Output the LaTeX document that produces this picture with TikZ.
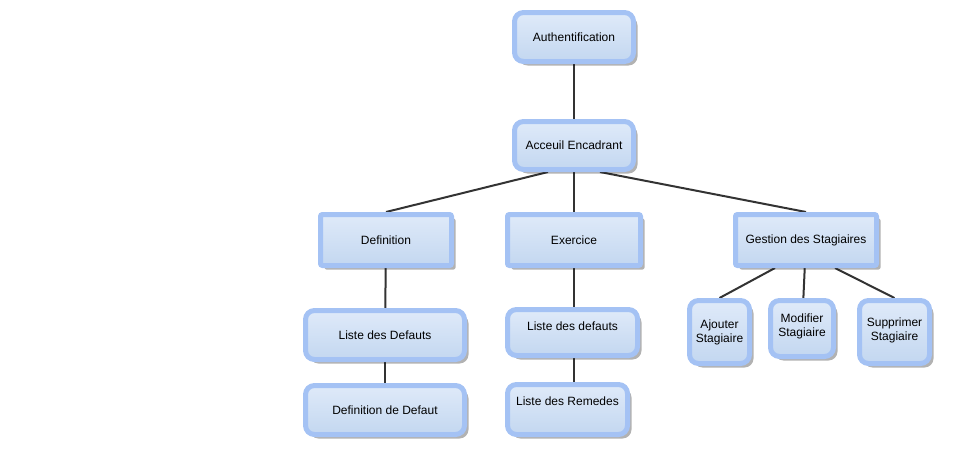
\documentclass[tikz,border=0pt]{standalone}
\usepackage{fontspec}
\setmainfont{Liberation Sans}
\usetikzlibrary{shapes,arrows,positioning,calc,shadows,backgrounds}

\definecolor{boxline}{HTML}{A4C2F4}
\definecolor{boxtop}{HTML}{DFEAF9}
\definecolor{boxbot}{HTML}{C3D7F0}
\definecolor{linkgray}{HTML}{333333}

\begin{document}
\begin{tikzpicture}[x=1pt, y=-1pt,
    font=\fontsize{12}{14}\selectfont,
    box/.style={draw=boxline, line width=5pt, rounded corners=9pt, top color=boxtop, bottom color=boxbot,
        align=center, inner sep=0pt,
        drop shadow={shadow xshift=4pt, shadow yshift=-4pt, fill=black, opacity=0.3}},
    flatbox/.style={box, rounded corners=2pt},
    link/.style={draw=linkgray, line width=2pt}]
    \useasboundingbox (0,0) rectangle (975,455);

    \node (auth) [box, minimum width=119pt, minimum height=49pt] at (574,37) {Authentification};
    \node (accueil) [box, minimum width=119pt, minimum height=48pt] at (574,145.5) {Acceuil Encadrant};

    \node (definition) [flatbox, minimum width=131pt, minimum height=51pt] at (386,240) {Definition};
    \node (exercice) [flatbox, minimum width=133pt, minimum height=51pt] at (574,240) {Exercice};
    \node (gestion) [flatbox, minimum width=141pt, minimum height=51pt] at (806,240) {Gestion des Stagiaires};

    \node (listedef) [box, minimum width=159pt, minimum height=49pt] at (385,335) {Liste des Defauts};
    \node (defdefaut) [box, minimum width=159pt, minimum height=49pt] at (385,410) {Definition de Defaut};

    \node (listeex) [box, minimum width=130pt, minimum height=46pt, text depth=12pt] at (572.5,332.5) {Liste des defauts};
    \node (remedes) [box, minimum width=120pt, minimum height=50pt, text depth=16pt] at (567.5,409.5) {Liste des Remedes};

    \node (ajouter) [box, minimum width=60pt, minimum height=63pt] at (719.5,332) {Ajouter\\Stagiaire};
    \node (modifier) [box, minimum width=63pt, minimum height=56pt, text depth=6pt] at (802,328.5) {Modifier\\Stagiaire};
    \node (supprimer) [box, minimum width=70pt, minimum height=63pt, text depth=6pt] at (894.5,332) {Supprimer\\Stagiaire};

    \begin{scope}[on background layer]
    \draw [link] (auth) -- (accueil);
    \draw [link] ([xshift=-26pt]accueil.south) -- (definition.north);
    \draw [link] (accueil) -- (exercice);
    \draw [link] ([xshift=26pt]accueil.south) -- (gestion.north);
    \draw [link] (definition) -- (listedef);
    \draw [link] (listedef) -- (defdefaut);
    \draw [link] (exercice.south) -- (listeex.north -| exercice.south);
    \draw [link] (listeex.south -| exercice.south) -- (remedes.north -| exercice.south);
    \draw [link] ([xshift=-31pt]gestion.south) -- (ajouter.north);
    \draw [link] (gestion) -- (modifier);
    \draw [link] ([xshift=29pt]gestion.south) -- (supprimer.north);
    \end{scope}
\end{tikzpicture}
\end{document}
